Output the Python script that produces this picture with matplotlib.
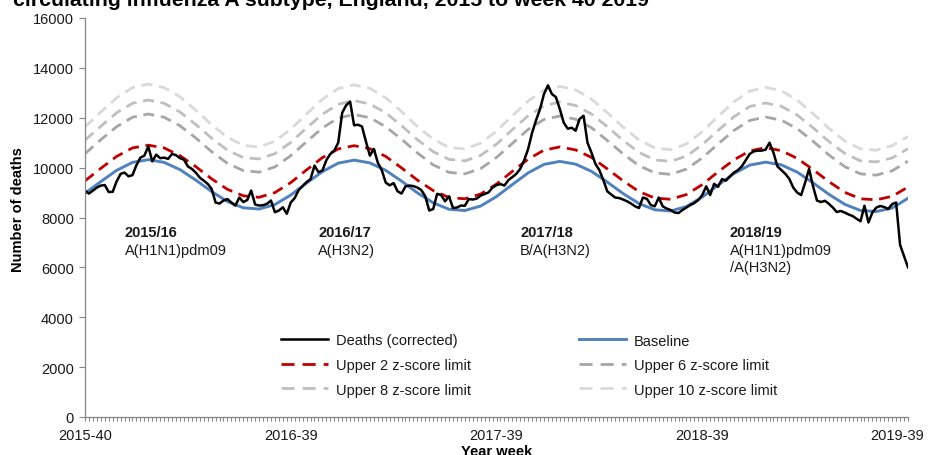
import matplotlib
matplotlib.use('Agg')
import matplotlib.pyplot as plt
from matplotlib.lines import Line2D
from matplotlib.transforms import ScaledTranslation

plt.rcParams['font.family'] = ['Liberation Sans', 'DejaVu Sans']

# ISO weeks 2015-40 .. 2019-39 (2015 has 53 weeks)
weeks = ([f'2015-{w:02d}' for w in range(40, 54)] +
         [f'{y}-{w:02d}' for y in (2016, 2017, 2018) for w in range(1, 53)] +
         [f'2019-{w:02d}' for w in range(1, 40)])
tick_labels = ['2015-40', '2016-39', '2017-39', '2018-39', '2019-39']

# weekly deaths (corrected)
deaths = [9080, 8960, 9080, 9200, 9280, 9300, 9020, 9030, 9450, 9750,
          9800, 9650, 9700, 10100, 10400, 10480, 10850, 10250, 10520, 10380,
          10400, 10350, 10550, 10500, 10380, 10320, 10050, 9950, 9800, 9600,
          9480, 9350, 9150, 8600, 8560, 8680, 8740, 8600, 8480, 8800,
          8620, 8700, 9080, 8520, 8480, 8490, 8550, 8680, 8210, 8280,
          8410, 8150, 8600, 8780, 9100, 9260, 9420, 9540, 10080, 9820,
          9880, 10300, 10550, 10680, 11000, 12200, 12500, 12650, 11700, 11720,
          11650, 11050, 10480, 10750, 10200, 9900, 9400, 9290, 9380, 9050,
          8960, 9250, 9280, 9260, 9200, 9100, 8850, 8280, 8340, 8950,
          8900, 8650, 8850, 8380, 8400, 8480, 8470, 8740, 8720, 8760,
          8880, 8940, 9010, 9200, 9300, 9340, 9280, 9500, 9620, 9750,
          9950, 10300, 10750, 11400, 11900, 12350, 12950, 13300, 12950, 12830,
          12350, 11800, 11560, 11600, 11480, 11950, 12080, 11000, 10600, 10150,
          9900, 9500, 9050, 8920, 8800, 8780, 8720, 8650, 8560, 8450,
          8380, 8800, 8750, 8500, 8450, 8800, 8450, 8360, 8300, 8200,
          8180, 8300, 8400, 8500, 8580, 8700, 8900, 9250, 8900, 9350,
          9230, 9540, 9480, 9650, 9800, 9900, 10050, 10300, 10550, 10650,
          10680, 10680, 10720, 11000, 10600, 10050, 9900, 9750, 9550, 9200,
          9000, 8900, 9400, 9950, 9250, 8680, 8620, 8670, 8550, 8400,
          8220, 8260, 8200, 8120, 8060, 7950, 7850, 8470, 7800, 8200,
          8400, 8460, 8420, 8340, 8540, 8600, 6900, 6450, 6000]

# baseline and limits, read every 4th week
smooth_weeks = weeks[::4]
baseline = [8970, 9440, 9890, 10210, 10320, 10210, 9920, 9500, 9040, 8640,
            8390, 8340, 8520, 8900, 9380, 9840, 10180, 10300, 10190, 9890,
            9460, 8990, 8590, 8330, 8280, 8460, 8840, 9320, 9790, 10130,
            10250, 10140, 9850, 9420, 8960, 8560, 8310, 8260, 8440, 8820,
            9300, 9760, 10100, 10220, 10110, 9820, 9390, 8930, 8530, 8280,
            8240, 8380, 8770]
upper2 = [9470, 9970, 10450, 10790, 10900, 10790, 10480, 10040, 9550, 9130,
          8870, 8810, 9000, 9400, 9910, 10400, 10750, 10880, 10760, 10450,
          9990, 9500, 9080, 8800, 8750, 8940, 9340, 9850, 10340, 10700,
          10830, 10710, 10410, 9950, 9470, 9040, 8780, 8730, 8920, 9320,
          9830, 10310, 10670, 10800, 10680, 10370, 9920, 9440, 9010, 8750,
          8710, 8850, 9220]
upper6 = [10560, 11120, 11640, 12020, 12150, 12020, 11680, 11190, 10640, 10170,
          9880, 9820, 10030, 10480, 11040, 11590, 11990, 12130, 12000, 11640,
          11140, 10590, 10110, 9810, 9750, 9960, 10410, 10970, 11530, 11930,
          12070, 11940, 11600, 11090, 10550, 10080, 9790, 9730, 9940, 10390,
          10950, 11490, 11890, 12030, 11900, 11560, 11060, 10510, 10040, 9750,
          9700, 9870, 10260]
upper8 = [11100, 11660, 12200, 12580, 12710, 12580, 12230, 11730, 11180, 10700,
          10400, 10350, 10560, 11010, 11590, 12140, 12540, 12690, 12550, 12200,
          11680, 11120, 10640, 10330, 10270, 10490, 10940, 11520, 12080, 12480,
          12630, 12490, 12150, 11640, 11090, 10610, 10310, 10250, 10460, 10920,
          11490, 12040, 12450, 12590, 12460, 12110, 11600, 11050, 10570, 10270,
          10230, 10390, 10760]
upper10 = [11630, 12230, 12800, 13210, 13350, 13210, 12840, 12300, 11720, 11210,
           10890, 10830, 11060, 11540, 12150, 12740, 13170, 13320, 13180, 12800,
           12250, 11650, 11140, 10810, 10750, 10980, 11460, 12080, 12670, 13110,
           13260, 13120, 12750, 12200, 11620, 11110, 10790, 10720, 10950, 11440,
           12050, 12640, 13070, 13220, 13080, 12710, 12160, 11580, 11070, 10750,
           10700, 10880, 11250]

seasons = [('2015-50', '2015/16', 'A(H1N1)pdm09'),
           ('2016-46', '2016/17', 'A(H3N2)'),
           ('2017-45', '2017/18', 'B/A(H3N2)'),
           ('2018-46', '2018/19', 'A(H1N1)pdm09\n/A(H3N2)')]

txt = '#1a1a1a'
fig = plt.figure(figsize=(9.3, 4.56), dpi=100)
ax = fig.add_axes([85 / 930, 38 / 456, 823 / 930, 399 / 456])

xs = [weeks.index(w) for w in smooth_weeks]
xd = [weeks.index(w) for w in weeks]
dash = (4, 2.4)
limits = [(upper10, '#d9d9d9', 'Upper 10 z-score limit'),
          (upper8, '#bfbfbf', 'Upper 8 z-score limit'),
          (upper6, '#a6a6a6', 'Upper 6 z-score limit'),
          (upper2, '#c00000', 'Upper 2 z-score limit')]
proxies = {}
for vals, col, name in limits:
    ax.plot(xs, vals, color=col, lw=2.0, dashes=dash)
    # legend sample in Excel style: two dashes and a dot
    proxies[name] = Line2D([], [], color=col, lw=2.0, dashes=(4.7, 2.9), label=name)
hb, = ax.plot(xs, baseline, color='#4f81bd', lw=2.1, label='Baseline')
hd, = ax.plot(xd, deaths, color='black', lw=1.8, label='Deaths (corrected)')

ax.set_xlim(0, len(weeks) - 1)
ax.set_ylim(0, 16000)
ax.set_yticks(range(0, 16001, 2000))
ax.set_xticks([weeks.index(t) for t in tick_labels])
ax.set_xticklabels(tick_labels)
ax.set_xticks(range(len(weeks)), minor=True)

for s in ('top', 'right'):
    ax.spines[s].set_visible(False)
for s in ('left', 'bottom'):
    ax.spines[s].set_color('#868686')
    ax.spines[s].set_linewidth(0.9)
ax.tick_params(axis='both', which='both', color='#868686', width=0.8,
               labelsize=10.5, labelcolor=txt, direction='out')
ax.tick_params(axis='y', length=4, pad=4)
ax.tick_params(axis='x', which='both', length=3, pad=5)

# last label pulled inside the canvas, as in the original
last = ax.get_xticklabels()[-1]
last.set_horizontalalignment('right')
last.set_transform(last.get_transform() + ScaledTranslation(16 / 100, 0, fig.dpi_scale_trans))

for wk, season, subtype in seasons:
    i = weeks.index(wk)
    ax.text(i, 7680, season, fontsize=10.5, fontweight='bold', color=txt, va='top')
    ax.text(i, 6960, subtype, fontsize=10.5, color=txt, va='top', linespacing=1.25)

fig.text(18 / 930, 1 - 210 / 456, 'Number of deaths', rotation=90, fontsize=10.5,
         fontweight='bold', ha='center', va='center', color='black')
fig.text(497 / 930, 1 - 445 / 456, 'Year week', fontsize=10.5, fontweight='bold',
         ha='center', va='top', color='black')
fig.text(13 / 930, 1 - 6 / 456,
         'circulating influenza A subtype, England, 2015 to week 40 2019',
         fontsize=15.3, fontweight='bold', ha='left', va='baseline', color='black')

handles = [hd, proxies['Upper 2 z-score limit'], proxies['Upper 8 z-score limit'],
           hb, proxies['Upper 6 z-score limit'], proxies['Upper 10 z-score limit']]
leg = ax.legend(handles=handles, ncol=2, loc='center',
                bbox_to_anchor=(529 / 930, 1 - 366 / 456), bbox_transform=fig.transFigure,
                frameon=False, fontsize=10.5, handlelength=3.2, handletextpad=0.55,
                columnspacing=7.4, labelspacing=0.72, borderpad=0, borderaxespad=0)
for t in leg.get_texts():
    t.set_color(txt)

fig.savefig('out.png', dpi=100)
